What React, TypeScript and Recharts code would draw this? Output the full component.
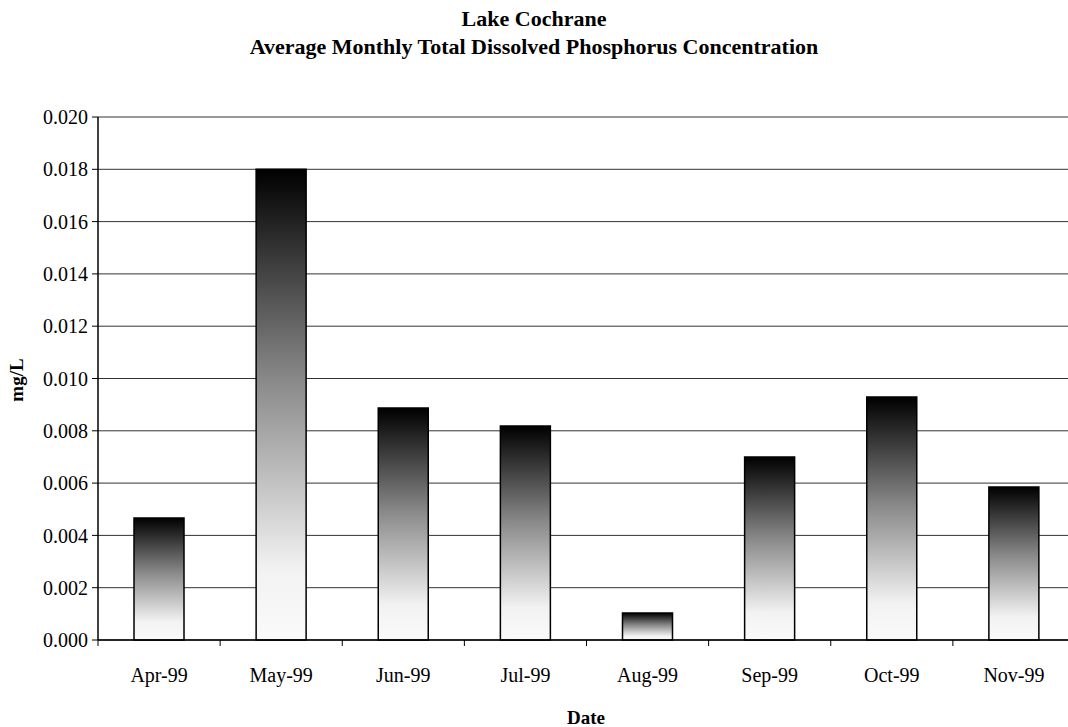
import React from 'react';
import { BarChart, Bar, XAxis, YAxis, CartesianGrid, Label } from 'recharts';

const months = ['Apr-99', 'May-99', 'Jun-99', 'Jul-99', 'Aug-99', 'Sep-99', 'Oct-99', 'Nov-99'];
const tdp = [0.00467, 0.0180, 0.00887, 0.00818, 0.00103, 0.0070, 0.00929, 0.00585];
const yTicks = [0, 0.002, 0.004, 0.006, 0.008, 0.01, 0.012, 0.014, 0.016, 0.018, 0.02];
const titleLines = ['Lake Cochrane', 'Average Monthly Total Dissolved Phosphorus Concentration'];
const yTitle = 'mg/L';
const xTitle = 'Date';

const data = months.map((m, i) => ({ month: m, value: tdp[i] }));

const CHART_W = 1080;
const CHART_H = 727;
const M_TOP = 117;
const X_H = 87;
const M_RIGHT = 5;
const Y_W = 98;
const PLOT_W = CHART_W - M_RIGHT - Y_W;
const BAND = PLOT_W / months.length;
const FONT = '"Liberation Serif", "Times New Roman", serif';

const XTick = (props: any) => {
  const { x, y, payload, index } = props;
  return (
    <g>
      <line x1={x - BAND / 2} x2={x - BAND / 2} y1={y} y2={y + 6} stroke="#000" strokeWidth={1} />
      {index === months.length - 1 && (
        <line x1={x + BAND / 2} x2={x + BAND / 2} y1={y} y2={y + 6} stroke="#000" strokeWidth={1} />
      )}
      <text x={x} y={y + 42} textAnchor="middle" fontFamily={FONT} fontSize={20} fill="#000">
        {payload.value}
      </text>
    </g>
  );
};

export default function App() {
  return (
    <div style={{ position: 'absolute', left: 0, top: 0, width: CHART_W, height: CHART_H, background: '#fff' }}>
      <div
        style={{
          position: 'absolute',
          left: 0,
          top: 5,
          width: 1068,
          textAlign: 'center',
          fontFamily: FONT,
          fontWeight: 'bold',
          fontSize: 22,
          lineHeight: '28px',
          color: '#000',
        }}
      >
        {titleLines.map((t) => (
          <div key={t}>{t}</div>
        ))}
      </div>
      <BarChart
        width={CHART_W}
        height={CHART_H}
        data={data}
        margin={{ top: M_TOP, right: M_RIGHT, bottom: 0, left: 0 }}
        barSize={50}
      >
        <defs>
          <linearGradient id="barGrad" x1="0" y1="0" x2="0" y2="1">
            <stop offset="0" stopColor="#000000" />
            <stop offset="0.45" stopColor="#8a8a8a" />
            <stop offset="0.85" stopColor="#f2f2f2" />
            <stop offset="1" stopColor="#fafafa" />
          </linearGradient>
        </defs>
        <CartesianGrid vertical={false} stroke="#333" strokeWidth={1} />
        <XAxis
          dataKey="month"
          tick={<XTick />}
          tickLine={false}
          tickSize={0}
          tickMargin={0}
          axisLine={{ stroke: '#000', strokeWidth: 1.5 }}
          interval={0}
          height={X_H}
        >
          <Label
            content={() => (
              <text x={586} y={724} textAnchor="middle" fontFamily={FONT} fontWeight="bold" fontSize={19} fill="#000">
                {xTitle}
              </text>
            )}
          />
        </XAxis>
        <YAxis
          width={Y_W}
          domain={[0, 0.02]}
          ticks={yTicks}
          interval={0}
          tickFormatter={(v: number) => v.toFixed(3)}
          tick={{ fontFamily: FONT, fontSize: 20, fill: '#000' }}
          tickLine={{ stroke: '#000' }}
          tickSize={6}
          tickMargin={4}
          axisLine={{ stroke: '#000', strokeWidth: 1.5 }}
        >
          <Label
            content={() => (
              <text
                x={16}
                y={380}
                transform="rotate(-90 16 380)"
                textAnchor="middle"
                dominantBaseline="central"
                fontFamily={FONT}
                fontWeight="bold"
                fontSize={19}
                fill="#000"
              >
                {yTitle}
              </text>
            )}
          />
        </YAxis>
        <Bar dataKey="value" fill="url(#barGrad)" stroke="#000" strokeWidth={1.5} isAnimationActive={false} />
      </BarChart>
    </div>
  );
}
